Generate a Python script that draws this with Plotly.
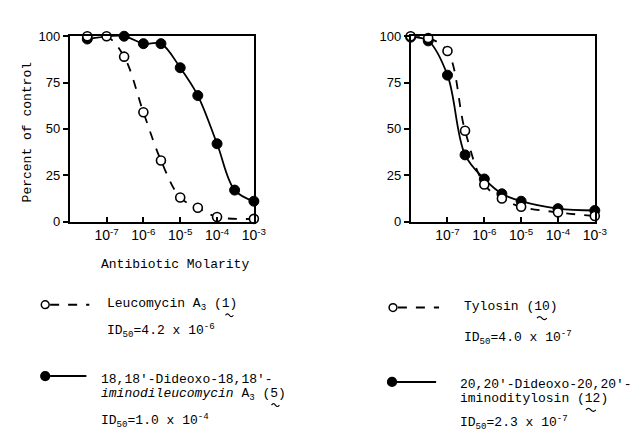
import plotly.graph_objects as go
from plotly.subplots import make_subplots

# ---- data ----
left_x_open = [3e-8, 1e-7, 3e-7, 1e-6, 3e-6, 1e-5, 3e-5, 1e-4, 1e-3]
left_y_open = [100, 100, 89, 59, 33, 13, 7.5, 2.5, 1.5]
left_x_fill = [3e-8, 3e-7, 1e-6, 3e-6, 1e-5, 3e-5, 1e-4, 3e-4, 1e-3]
left_y_fill = [98.5, 100, 96, 96, 83, 68, 42, 17, 11]

right_x_open = [1e-8, 3e-8, 1e-7, 3e-7, 1e-6, 3e-6, 1e-5, 1e-4, 1e-3]
right_y_open = [100, 99, 92, 49, 20, 12.5, 8, 5, 3]
right_x_fill = [1e-8, 3e-8, 1e-7, 3e-7, 1e-6, 3e-6, 1e-5, 1e-4, 1e-3]
right_y_fill = [99.5, 97.5, 79, 36, 23, 15, 11, 7, 6]

x_tickvals = [1e-7, 1e-6, 1e-5, 1e-4, 1e-3]
x_ticktext = ["10<sup>-7</sup>", "10<sup>-6</sup>", "10<sup>-5</sup>", "10<sup>-4</sup>", "10<sup>-3</sup>"]
y_tickvals = [0, 25, 50, 75, 100]
y_ticktext = ["0", "25", "50", "75", "100"]

W, H = 639, 435
MONO = "Liberation Mono"
SANS = "Liberation Sans"

def px(x):
    return x / W

def py(y):
    return 1 - y / H

fig = make_subplots(rows=1, cols=2)

def add_pair(xo, yo, xf, yf, col):
    fig.add_trace(go.Scatter(x=xo, y=yo, mode="lines", line=dict(color="black", width=1.8, dash="dash", shape="spline", smoothing=1.0),
                             showlegend=False, cliponaxis=False, hoverinfo="skip"), row=1, col=col)
    fig.add_trace(go.Scatter(x=xf, y=yf, mode="lines", line=dict(color="black", width=1.8, shape="spline", smoothing=1.0),
                             showlegend=False, cliponaxis=False, hoverinfo="skip"), row=1, col=col)
    fig.add_trace(go.Scatter(x=xf, y=yf, mode="markers", marker=dict(color="black", size=10, line=dict(color="black", width=1)),
                             showlegend=False, cliponaxis=False), row=1, col=col)
    fig.add_trace(go.Scatter(x=xo, y=yo, mode="markers", marker=dict(color="white", size=9, line=dict(color="black", width=1.6)),
                             showlegend=False, cliponaxis=False), row=1, col=col)

add_pair(left_x_open, left_y_open, left_x_fill, left_y_fill, 1)
add_pair(right_x_open, right_y_open, right_x_fill, right_y_fill, 2)

xaxis_common = dict(type="log", range=[-8.0002, -2.9998], tickvals=x_tickvals, ticktext=x_ticktext,
                    ticks="inside", ticklen=5, tickwidth=1.5, tickcolor="black",
                    showline=True, linecolor="black", linewidth=2, mirror=True,
                    showgrid=False, zeroline=False,
                    tickfont=dict(family=SANS, size=14, color="black"))
yaxis_common = dict(range=[0, 100], tickvals=y_tickvals, ticktext=y_ticktext,
                    ticks="outside", ticklen=5, tickwidth=1.5, tickcolor="black",
                    showline=True, linecolor="black", linewidth=1.6, mirror=True,
                    showgrid=False, zeroline=False,
                    tickfont=dict(family=SANS, size=13, color="black"))

fig.update_layout(
    xaxis=dict(domain=[px(63), px(251)], **xaxis_common),
    xaxis2=dict(domain=[px(411), px(599)], **xaxis_common),
    yaxis=dict(domain=[py(214), py(22)], **yaxis_common),
    yaxis2=dict(domain=[py(214), py(22)], **yaxis_common),
    width=W, height=H,
    margin=dict(l=0, r=0, t=0, b=0),
    paper_bgcolor="white", plot_bgcolor="white",
    showlegend=False,
)

ann = []
def text(x, y, s, size=13, xanchor="left", angle=0, family=MONO):
    ann.append(dict(x=px(x), y=py(y), xref="paper", yref="paper", text=s, showarrow=False,
                    xanchor=xanchor, yanchor="middle", textangle=angle,
                    font=dict(family=family, size=size, color="black")))

text(20, 121, "Percent of control", xanchor="center", angle=-90)
text(170, 258, "Antibiotic Molarity", xanchor="center")

# left legend
text(99, 300, "Leucomycin A<sub>3</sub> (1)")
text(99, 327, "ID<sub>50</sub>=4.2 x 10<sup>-6</sup>")
text(93, 377, "18,18'-Dideoxo-18,18'-")
text(93, 393, "<i>iminodileucomycin</i> A<sub>3</sub> (5)")
text(93, 420, "ID<sub>50</sub>=1.0 x 10<sup>-4</sup>")

# right legend
text(463, 302, "Tylosin (10)")
text(463, 334, "ID<sub>50</sub>=4.0 x 10<sup>-7</sup>")
text(459, 383, "20,20'-Dideoxo-20,20'-")
text(459, 397, "iminoditylosin (12)")
text(459, 422, "ID<sub>50</sub>=2.3 x 10<sup>-7</sup>")

fig.update_layout(annotations=ann)

shapes = []
def key(cx, cy, x2, filled, dashed):
    shapes.append(dict(type="line", xref="paper", yref="paper", x0=px(cx + 5), x1=px(x2), y0=py(cy), y1=py(cy),
                       line=dict(color="black", width=2, dash="dash" if dashed else "solid")))
    r = 4.5 if filled else 4
    shapes.append(dict(type="circle", xref="paper", yref="paper", x0=px(cx - r), x1=px(cx + r),
                       y0=py(cy + r), y1=py(cy - r),
                       fillcolor="black" if filled else "white", line=dict(color="black", width=1.5)))

def tilde(cx, cy, half=4):
    p = (f"M {px(cx-half)},{py(cy)} Q {px(cx-half/2)},{py(cy-3)} {px(cx)},{py(cy)} "
         f"Q {px(cx+half/2)},{py(cy+3)} {px(cx+half)},{py(cy)}")
    shapes.append(dict(type="path", xref="paper", yref="paper", path=p, line=dict(color="black", width=1.2)))

key(38, 300, 83, False, True)
key(38, 374, 80, True, False)
key(393, 303, 440, False, True)
key(392, 380, 437, True, False)

tilde(226, 311)
tilde(273, 404)
tilde(545, 314, 5)
tilde(595, 409, 5)
fig.update_layout(shapes=shapes)

fig.write_html("out.html")
